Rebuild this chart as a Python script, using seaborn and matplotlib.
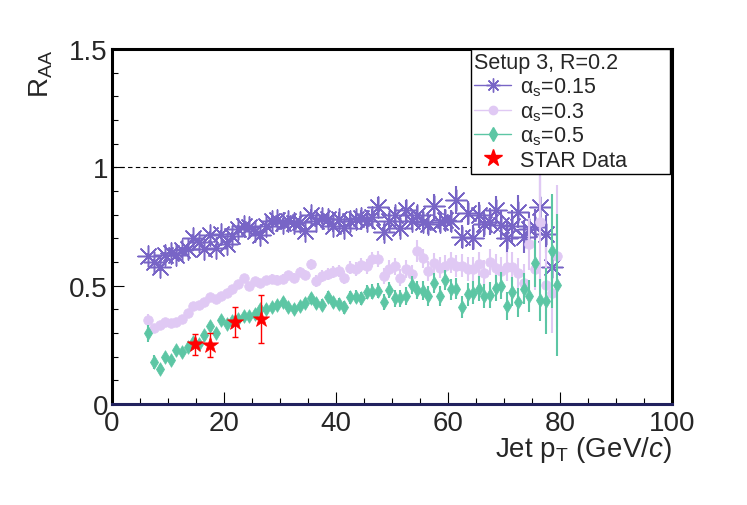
import numpy as np
import pandas as pd
import matplotlib
matplotlib.use("Agg")
import matplotlib.pyplot as plt
from matplotlib.lines import Line2D
from matplotlib.ticker import MultipleLocator
import seaborn as sns

# jet pT bin centres (GeV/c)
pt = [6.5, 7.5, 8.5, 9.5, 10.5, 11.5, 12.5, 13.5, 14.5, 15.5, 16.5, 17.5, 18.5, 19.5,
      20.5, 21.5, 22.5, 23.5, 24.5, 25.5, 26.5, 27.5, 28.5, 29.5, 30.5, 31.5, 32.5, 33.5,
      34.5, 35.5, 36.5, 37.5, 38.5, 39.5, 40.5, 41.5, 42.5, 43.5, 44.5, 45.5, 46.5, 47.5,
      48.5, 49.5, 50.5, 51.5, 52.5, 53.5, 54.5, 55.5, 56.5, 57.5, 58.5, 59.5, 60.5, 61.5,
      62.5, 63.5, 64.5, 65.5, 66.5, 67.5, 68.5, 69.5, 70.5, 71.5, 72.5, 73.5, 74.5, 75.5,
      76.5, 77.5, 78.5, 79.5]

# alpha_s = 0.15
raa_015 = [0.625, 0.600, 0.577, 0.630, 0.640, 0.630, 0.650, 0.655, 0.700, 0.685, 0.655, 0.715,
           0.660, 0.720, 0.675, 0.710, 0.741, 0.752, 0.748, 0.730, 0.713, 0.752, 0.773, 0.778,
           0.766, 0.773, 0.766, 0.770, 0.729, 0.800, 0.773, 0.785, 0.780, 0.752, 0.783, 0.745,
           0.773, 0.783, 0.787, 0.773, 0.790, 0.834, 0.727, 0.773, 0.797, 0.745, 0.819, 0.773,
           0.797, 0.770, 0.762, 0.837, 0.770, 0.778, 0.773, 0.862, 0.707, 0.806, 0.703, 0.799,
           0.760, 0.770, 0.820, 0.755, 0.703, 0.752, 0.813, 0.707, 0.738, 0.749, 0.834, 0.717,
           0.577, np.nan]
err_015 = [0.014, 0.013, 0.013, 0.012, 0.012, 0.012, 0.013, 0.013, 0.014, 0.014, 0.014, 0.015,
           0.015, 0.015, 0.016, 0.016, 0.017, 0.017, 0.018, 0.018, 0.019, 0.019, 0.020, 0.020,
           0.021, 0.021, 0.022, 0.023, 0.023, 0.024, 0.025, 0.025, 0.026, 0.027, 0.028, 0.028,
           0.029, 0.030, 0.031, 0.032, 0.033, 0.040, 0.034, 0.035, 0.036, 0.037, 0.045, 0.038,
           0.040, 0.041, 0.042, 0.050, 0.044, 0.045, 0.046, 0.060, 0.048, 0.050, 0.052, 0.054,
           0.055, 0.057, 0.060, 0.062, 0.064, 0.066, 0.068, 0.070, 0.072, 0.075, 0.130, 0.080,
           0.060, np.nan]

# alpha_s = 0.3
raa_03 = [0.356, 0.323, 0.333, 0.347, 0.342, 0.347, 0.359, 0.384, 0.412, 0.418, 0.432, 0.450,
          0.443, 0.457, 0.467, 0.488, 0.509, 0.534, 0.497, 0.520, 0.510, 0.524, 0.530, 0.524,
          0.530, 0.544, 0.534, 0.558, 0.544, 0.590, 0.520, 0.541, 0.549, 0.558, 0.562, 0.534,
          0.576, 0.570, 0.586, 0.581, 0.612, 0.612, 0.541, 0.572, 0.581, 0.534, 0.572, 0.549,
          0.647, 0.616, 0.562, 0.595, 0.576, 0.584, 0.598, 0.584, 0.584, 0.570, 0.570, 0.590,
          0.555, 0.600, 0.576, 0.562, 0.580, 0.580, 0.553, 0.510, 0.678, 0.572, 0.769, 0.502,
          0.468, 0.626]
err_03 = [0.025, 0.012, 0.011, 0.011, 0.011, 0.011, 0.012, 0.012, 0.012, 0.013, 0.013, 0.013,
          0.014, 0.014, 0.015, 0.015, 0.016, 0.016, 0.017, 0.017, 0.018, 0.018, 0.019, 0.019,
          0.020, 0.020, 0.021, 0.022, 0.022, 0.023, 0.024, 0.024, 0.025, 0.026, 0.027, 0.027,
          0.028, 0.029, 0.030, 0.031, 0.032, 0.033, 0.034, 0.035, 0.036, 0.037, 0.038, 0.039,
          0.045, 0.041, 0.042, 0.043, 0.044, 0.045, 0.046, 0.047, 0.048, 0.050, 0.051, 0.052,
          0.054, 0.055, 0.057, 0.059, 0.061, 0.063, 0.065, 0.080, 0.110, 0.090, 0.250, 0.160,
          0.170, 0.300]

# alpha_s = 0.5
raa_05 = [0.298, 0.176, 0.148, 0.200, 0.187, 0.229, 0.218, 0.239, 0.260, 0.253, 0.291, 0.328,
          0.300, 0.356, 0.338, 0.352, 0.361, 0.370, 0.373, 0.380, 0.403, 0.403, 0.408, 0.418,
          0.432, 0.408, 0.400, 0.412, 0.426, 0.446, 0.425, 0.418, 0.454, 0.429, 0.422, 0.408,
          0.450, 0.454, 0.446, 0.474, 0.474, 0.478, 0.432, 0.481, 0.446, 0.446, 0.457, 0.502,
          0.482, 0.478, 0.457, 0.513, 0.457, 0.524, 0.485, 0.488, 0.410, 0.464, 0.471, 0.488,
          0.457, 0.460, 0.492, 0.499, 0.415, 0.474, 0.429, 0.488, 0.457, 0.595, 0.440, 0.436,
          0.647, 0.502]
err_05 = [0.035, 0.030, 0.020, 0.012, 0.011, 0.011, 0.011, 0.012, 0.012, 0.012, 0.013, 0.013,
          0.013, 0.014, 0.014, 0.015, 0.015, 0.016, 0.016, 0.017, 0.017, 0.018, 0.018, 0.019,
          0.019, 0.020, 0.021, 0.021, 0.022, 0.023, 0.023, 0.024, 0.025, 0.025, 0.026, 0.027,
          0.028, 0.028, 0.029, 0.030, 0.031, 0.032, 0.033, 0.034, 0.035, 0.036, 0.037, 0.038,
          0.039, 0.040, 0.041, 0.042, 0.043, 0.044, 0.045, 0.046, 0.047, 0.048, 0.050, 0.051,
          0.052, 0.054, 0.055, 0.057, 0.059, 0.061, 0.063, 0.065, 0.067, 0.100, 0.090, 0.140,
          0.240, 0.300]

# STAR data
star_pt = [14.8, 17.5, 22.0, 26.6]
star_raa = [0.252, 0.250, 0.345, 0.359]
star_err = [0.043, 0.050, 0.063, 0.100]

labels = ["\u03b1$_{\\rm s}$=0.15", "\u03b1$_{\\rm s}$=0.3", "\u03b1$_{\\rm s}$=0.5", "STAR Data"]
legend_title = "Setup 3, R=0.2"
x_ticks = [0, 20, 40, 60, 80, 100]
y_ticks = [0, 0.5, 1, 1.5]
y_ticklabels = ["0", "0.5", "1", "1.5"]

c015 = "#7865c6"
c03 = "#e0c9f4"
c05 = "#5cc6a4"
cstar = "#ff0000"

sns.set_style("white")
plt.rcParams["font.family"] = ["Liberation Sans", "DejaVu Sans"]
plt.rcParams["mathtext.fontset"] = "custom"
plt.rcParams["mathtext.rm"] = "Liberation Sans"
plt.rcParams["mathtext.it"] = "Liberation Sans:italic"
plt.rcParams["mathtext.bf"] = "Liberation Sans:bold"

fig = plt.figure(figsize=(7.47, 5.06), dpi=100)
ax = fig.add_axes([0.150, 0.1996, 0.7496, 0.7016])

ax.axhline(1.0, color="black", lw=0.8, ls=(0, (4, 3)), zorder=1)

df = pd.DataFrame({"pt": pt, "a015": raa_015, "a03": raa_03, "a05": raa_05})
series = [
    ("a015", err_015, c015, (8, 2, 0), 230, 1.1),
    ("a03", err_03, c03, "o", 48, 0),
    ("a05", err_05, c05, "d", 48, 0),
]
for i, (col, err, color, marker, size, lw) in enumerate(series):
    ax.errorbar(pt, df[col], yerr=err, fmt="none", ecolor=color, elinewidth=1.5,
                capsize=0, zorder=2 + 2 * i)
    if lw > 0:
        sns.scatterplot(data=df, x="pt", y=col, marker=marker, s=size, color=color,
                        linewidth=lw, ax=ax, zorder=3 + 2 * i, legend=False)
    else:
        sns.scatterplot(data=df, x="pt", y=col, marker=marker, s=size, color=color,
                        edgecolor=color, linewidth=0.5, ax=ax, zorder=3 + 2 * i, legend=False)

ax.errorbar(star_pt, star_raa, yerr=star_err, fmt="none", ecolor=cstar, elinewidth=1.0,
            capsize=2.5, capthick=1.0, zorder=9)
sns.scatterplot(x=star_pt, y=star_raa, marker="*", s=150, color=cstar, edgecolor=cstar,
                linewidth=0.5, ax=ax, zorder=10, legend=False)

ax.set_xlim(0, 100)
ax.set_ylim(0, 1.5)
ax.set_xticks(x_ticks)
ax.set_xticklabels([str(t) for t in x_ticks])
ax.set_yticks(y_ticks)
ax.set_yticklabels(y_ticklabels)
ax.xaxis.set_minor_locator(MultipleLocator(5))
ax.yaxis.set_minor_locator(MultipleLocator(0.1))
ax.tick_params(which="both", direction="in", color="black", width=0.8,
               bottom=True, left=True, top=False, right=False, labelsize=20)
ax.tick_params(which="major", length=8.6)
ax.tick_params(which="minor", length=4.3)
ax.tick_params(axis="x", pad=4)
ax.tick_params(axis="y", pad=3)

for side in ["left", "top", "right"]:
    ax.spines[side].set_color("black")
    ax.spines[side].set_linewidth(2.2)
ax.spines["bottom"].set_color("#22225e")
ax.spines["bottom"].set_linewidth(2.2)

ax.set_xlabel("Jet p$_{\\rm T}$ (GeV/$c$)", fontsize=20, loc="right")
ax.xaxis.set_label_coords(1.0, -0.085)
ax.set_ylabel("R$_{\\rm AA}$", fontsize=20, loc="top")
ax.yaxis.set_label_coords(-0.102, 1.0)

handles = [
    Line2D([], [], color=c015, marker=(8, 2, 0), markersize=10, lw=1.0, mew=1.0),
    Line2D([], [], color=c03, marker="o", markersize=6, lw=1.0),
    Line2D([], [], color=c05, marker="d", markersize=7, lw=1.0),
    Line2D([], [], color=cstar, marker="*", markersize=13, lw=0),
]
leg = ax.legend(handles, labels, title=legend_title, loc="upper left",
                bbox_to_anchor=(0.641, 0.0, 0.355, 1.0), mode="expand",
                fontsize=15.5, title_fontsize=15.5, alignment="left",
                frameon=True, fancybox=False, framealpha=1, edgecolor="black",
                borderpad=0.15, labelspacing=0.1, handlelength=1.7,
                handletextpad=0.45, borderaxespad=0.0)
leg.get_frame().set_linewidth(1.0)
leg.set_zorder(20)

fig.savefig("out.png", dpi=100)
